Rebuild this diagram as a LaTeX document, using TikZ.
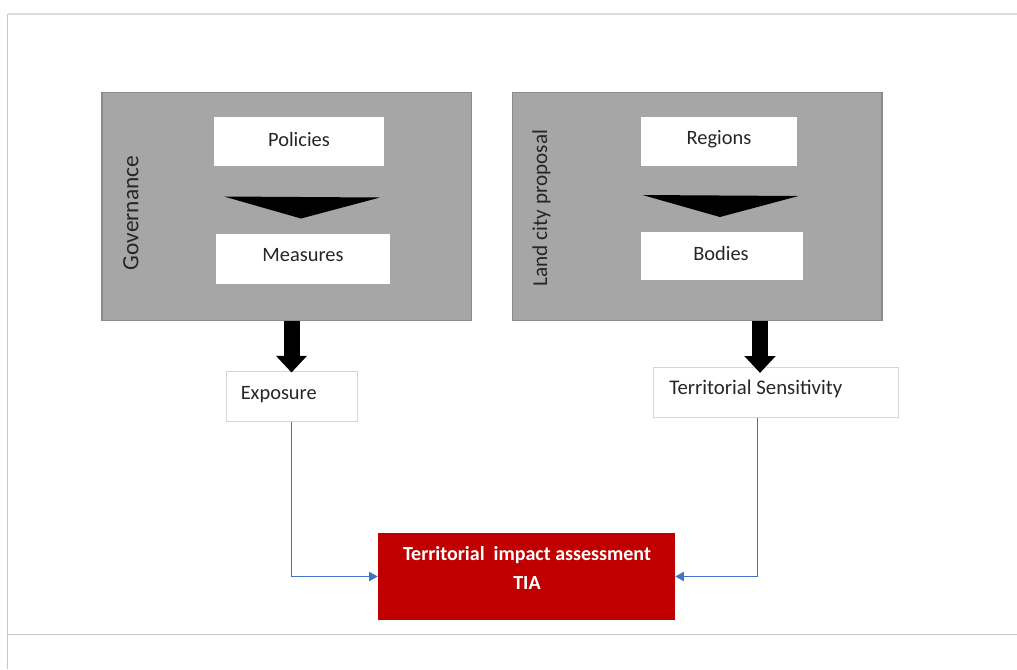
\documentclass[tikz,border=0pt]{standalone}
\usepackage{fontspec}
\setmainfont{Carlito}
\usetikzlibrary{fit,arrows.meta}
\definecolor{panelgray}{HTML}{A6A6A6}
\definecolor{paneledge}{HTML}{8C8C8C}
\definecolor{tiared}{HTML}{C00000}
\definecolor{linkblue}{HTML}{4472C4}
\definecolor{frameA}{HTML}{DCDCDC}
\definecolor{frameB}{HTML}{C8C8C8}
\definecolor{boxedge}{HTML}{D6D6D6}
\tikzset{
  panel/.style={draw=paneledge, fill=panelgray, line width=0.8pt, inner sep=0pt},
  whitebox/.style={fill=white, inner sep=0pt},
  outbox/.style={draw=boxedge, fill=white, line width=0.75pt, inner sep=0pt},
  txt/.style={inner sep=0pt, font=\fontsize{15.3}{18}\selectfont, text=black!85},
  sidetxt/.style={inner sep=0pt, rotate=90, text=black!85},
  redbox/.style={fill=tiared, inner sep=0pt},
  redtxt/.style={inner sep=0pt, font=\bfseries\fontsize{15}{21.75}\selectfont, text=white, align=center},
  chevron/.style={fill=black, draw=none},
  bigarrow/.style={line width=12pt, -{Triangle[width=22.5pt,length=12.5pt]}},
  bluelink/.style={draw=linkblue, line width=0.75pt, -{Triangle[width=7pt,length=6.5pt]}},
  framerule/.style={line width=1.1pt, draw=frameA},
}
\begin{document}
\begin{tikzpicture}[x=0.75pt,y=-0.75pt]
\useasboundingbox (0,0) rectangle (1017,669);
% frame
\draw[framerule] (7.5,14) -- (1017,14);
\draw[framerule, draw=frameB, line width=0.8pt] (7.8,13.5) -- (7.8,669);
\draw[draw=frameB, line width=0.8pt] (7.8,634.5) -- (1017,634.5);

% panels
\node[panel, fit={(102,92.5) (471.5,320.5)}] (gov) {};
\node[panel, fit={(512.5,92.5) (882,320.5)}] (land) {};

\node[sidetxt, font=\fontsize{17.5}{20}\selectfont] (govtxt) at (131,213) {Governance};
\node[sidetxt, font=\fontsize{15.9}{19}\selectfont] (landtxt) at (541.5,208) {Land city proposal};

\node[whitebox, fit={(214,117) (384,166)}] (policies) {};
\node[whitebox, fit={(216,234) (390,284)}] (measures) {};
\node[whitebox, fit={(641,117) (797,166)}] (regions) {};
\node[whitebox, fit={(641,232) (803,280)}] (bodies) {};
\node[txt] (policiestxt) at (299,139) {Policies};
\node[txt] (measurestxt) at (303,255.5) {Measures};
\node[txt] (regionstxt) at (719,139.5) {Regions};
\node[txt] (bodiestxt) at (721,253.5) {Bodies};

\fill[chevron] (224,196.5) -- (380,197.5) -- (301,218.5) -- cycle;
\fill[chevron] (642.5,195) -- (798.5,196) -- (720,217) -- cycle;

% outputs
\node[outbox, fit={(226,371) (357,421)}] (exposure) {};
\node[txt, anchor=west] (exposuretxt) at (240.5,395) {Exposure};
\node[outbox, fit={(653.5,367) (898,417)}] (sens) {};
\node[txt, anchor=west, font=\fontsize{15.6}{18}\selectfont] (senstxt) at (669,388.5) {Territorial Sensitivity};

\node[redbox, fit={(378,533) (675,620)}] (tia) {};
\node[redtxt] (tiatxt) at (527,567.5) {Territorial\hspace{0.45em}impact assessment\\TIA};

% black arrows
\coordinate (govout) at (291.5,321);
\coordinate (landout) at (760,321);
\draw[bigarrow] (govout) -- ([yshift=-1.5pt]govout |- exposure.north);
\draw[bigarrow] (landout) -- ([yshift=-4.8pt]landout |- sens.north);

% blue links
\draw[bluelink] (exposure.south) |- (tia.west);
\draw[bluelink] ([xshift=-13.9pt]sens.south) |- (tia.east);
\end{tikzpicture}
\end{document}
